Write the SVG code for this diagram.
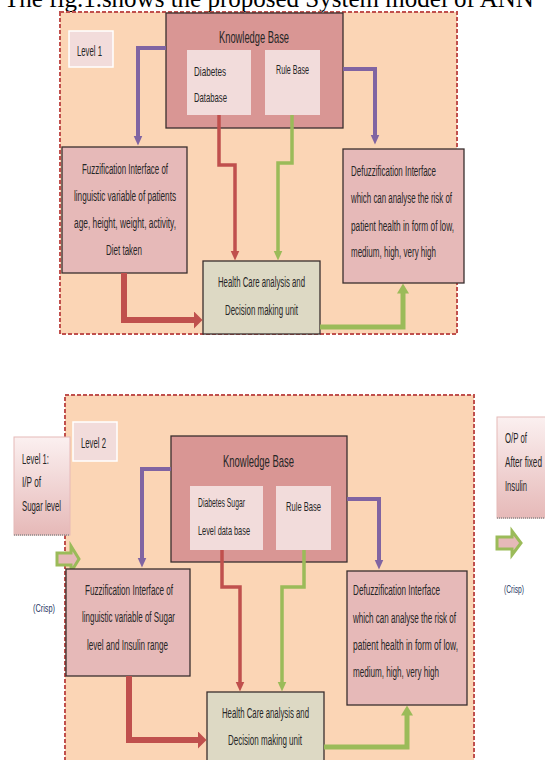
<svg xmlns="http://www.w3.org/2000/svg" width="545" height="760" viewBox="0 0 545 760">
<defs>
<style>
.t{font-family:"Liberation Sans",Arial,sans-serif;font-size:14px;fill:#262626}
.s{font-size:13px}
.h{font-size:17px}
.c{font-size:10.5px;fill:#1F3864}
.outer{fill:#FBD5B5;stroke:#C0504D;stroke-width:2;stroke-dasharray:4 2}
.lvl{fill:#F2DCDB;stroke:#FFFFFF;stroke-width:1.5}
.kb{fill:#D99694;stroke:#3A2E2E;stroke-width:1.3}
.inner{fill:#F2DCDB;stroke:none}
.fz{fill:#E6B9B8;stroke:#3A2E2E;stroke-width:1.3}
.hc{fill:#DDD9C4;stroke:#3A2E2E;stroke-width:1.3}
.io{fill:url(#gio);stroke:#E6B9B8;stroke-width:1}
.cn{fill:none;stroke-linejoin:miter}
.pu{stroke:#8064A2;stroke-width:4;marker-end:url(#aP)}
.rd{stroke:#C0504D;stroke-width:3.5;marker-end:url(#aR)}
.gr{stroke:#9BBB59;stroke-width:3.5;marker-end:url(#aG)}
.rdb{stroke:#C0504D;stroke-width:6;marker-end:url(#aRB)}
.grb{stroke:#9BBB59;stroke-width:5;marker-end:url(#aGB)}
.blk{fill:#E6B9B8;stroke:#9BBB59;stroke-width:3;stroke-linejoin:miter}
</style>
<linearGradient id="gio" x1="0" y1="0" x2="0" y2="1">
<stop offset="0" stop-color="#FBF0F0"/>
<stop offset="1" stop-color="#E6B9B8"/>
</linearGradient>
<marker id="aP" markerUnits="userSpaceOnUse" viewBox="0 0 10 10" markerWidth="10" markerHeight="10" refX="0.5" refY="5" orient="auto"><path d="M0,0.5 L10,5 L0,9.5 z" fill="#8064A2"/></marker>
<marker id="aR" markerUnits="userSpaceOnUse" viewBox="0 0 10 10" markerWidth="10" markerHeight="10" refX="0.5" refY="5" orient="auto"><path d="M0,0.5 L10,5 L0,9.5 z" fill="#C0504D"/></marker>
<marker id="aG" markerUnits="userSpaceOnUse" viewBox="0 0 10 10" markerWidth="10" markerHeight="10" refX="0.5" refY="5" orient="auto"><path d="M0,0.5 L10,5 L0,9.5 z" fill="#9BBB59"/></marker>
<marker id="aRB" markerUnits="userSpaceOnUse" viewBox="0 0 9 18" markerWidth="9" markerHeight="18" refX="0.5" refY="9" orient="auto"><path d="M0,0 L9,9 L0,18 z" fill="#C0504D"/></marker>
<marker id="aGB" markerUnits="userSpaceOnUse" viewBox="0 0 10 12" markerWidth="10" markerHeight="12" refX="0.5" refY="6" orient="auto"><path d="M0,0 L10,6 L0,12 z" fill="#9BBB59"/></marker>
</defs>
<rect width="545" height="760" fill="#FFFFFF"/>
<text x="4" y="7" style="font-family:'Liberation Serif','Times New Roman',serif;font-size:25px;fill:#000">The fig.1.shows the proposed System model of ANN</text>

<!-- Diagram 1 -->
<g id="frame1"><rect class="outer" x="60" y="12" width="397" height="322"/></g>
<g id="level1"><rect class="lvl" x="69" y="31" width="44" height="36"/><text class="t" x="77" y="56" textLength="25" lengthAdjust="spacingAndGlyphs">Level 1</text></g>
<g id="kb1"><rect class="kb" x="166" y="13" width="177" height="115"/><text class="t h" x="219" y="43" textLength="70" lengthAdjust="spacingAndGlyphs">Knowledge Base</text></g>
<g id="db1"><rect class="inner" x="187" y="50" width="64" height="65"/><text class="t s" x="194" y="76" textLength="32" lengthAdjust="spacingAndGlyphs">Diabetes</text><text class="t s" x="194" y="102" textLength="33" lengthAdjust="spacingAndGlyphs">Database</text></g>
<g id="rb1"><rect class="inner" x="265" y="50" width="55" height="65"/><text class="t s" x="276" y="74" textLength="33" lengthAdjust="spacingAndGlyphs">Rule Base</text></g>
<g id="fuzz1"><rect class="fz" x="62" y="147" width="125" height="126"/>
<text class="t" x="82" y="174" textLength="86" lengthAdjust="spacingAndGlyphs">Fuzzification Interface of</text>
<text class="t" x="74" y="201" textLength="102" lengthAdjust="spacingAndGlyphs">linguistic variable of patients</text>
<text class="t" x="74" y="228" textLength="102" lengthAdjust="spacingAndGlyphs">age, height, weight, activity,</text>
<text class="t" x="106" y="255" textLength="36" lengthAdjust="spacingAndGlyphs">Diet taken</text></g>
<g id="hc1"><rect class="hc" x="203" y="261" width="117" height="73"/>
<text class="t" x="218" y="287" textLength="87" lengthAdjust="spacingAndGlyphs">Health Care analysis and</text>
<text class="t" x="225" y="315" textLength="73" lengthAdjust="spacingAndGlyphs">Decision making unit</text></g>
<g id="defuzz1"><rect class="fz" x="343" y="149" width="121" height="134"/>
<text class="t" x="351" y="176" textLength="85" lengthAdjust="spacingAndGlyphs">Defuzzification Interface</text>
<text class="t" x="351" y="203" textLength="101" lengthAdjust="spacingAndGlyphs">which can analyse the risk of</text>
<text class="t" x="351" y="231" textLength="103" lengthAdjust="spacingAndGlyphs">patient health in form of low,</text>
<text class="t" x="351" y="257" textLength="85" lengthAdjust="spacingAndGlyphs">medium, high, very high</text></g>
<g id="connectors1">
<path class="cn pu" d="M166,48 H138 V136"/>
<path class="cn pu" d="M343,69 H375 V135"/>
<path class="cn rd" d="M219,115 V165 H235 V251"/>
<path class="cn gr" d="M292,115 V163 H278 V251"/>
<path class="cn rdb" d="M124,273 V320 H194"/>
<path class="cn grb" d="M320,327 H403 V293"/>
</g>

<!-- Diagram 2 -->
<g id="frame2"><rect class="outer" x="65" y="395" width="409" height="380"/></g>
<g id="level2"><rect class="lvl" x="73" y="422" width="44" height="39"/><text class="t" x="81" y="448" textLength="25" lengthAdjust="spacingAndGlyphs">Level 2</text></g>
<g id="input"><rect class="io" x="14" y="437" width="56" height="98"/><line x1="14" y1="535" x2="70" y2="535" stroke="#8C8C8C" stroke-width="1.5" stroke-dasharray="1 1"/>
<text class="t" x="22" y="464" textLength="27" lengthAdjust="spacingAndGlyphs">Level 1:</text>
<text class="t" x="22" y="487" textLength="19" lengthAdjust="spacingAndGlyphs">I/P of</text>
<text class="t" x="22" y="511" textLength="39" lengthAdjust="spacingAndGlyphs">Sugar level</text></g>
<g id="inArrow"><polygon class="blk" points="57,553 71,553 71,546 79,559 71,572 71,565 57,565"/></g>
<g id="crispL"><text class="t c" x="33" y="612" textLength="22" lengthAdjust="spacingAndGlyphs">(Crisp)</text></g>
<g id="kb2"><rect class="kb" x="171" y="436" width="176" height="126"/><text class="t h" x="223" y="467" textLength="71" lengthAdjust="spacingAndGlyphs">Knowledge Base</text></g>
<g id="db2"><rect class="inner" x="190" y="486" width="73" height="64"/><text class="t s" x="198" y="507" textLength="47" lengthAdjust="spacingAndGlyphs">Diabetes Sugar</text><text class="t s" x="198" y="535" textLength="52" lengthAdjust="spacingAndGlyphs">Level data base</text></g>
<g id="rb2"><rect class="inner" x="276" y="486" width="55" height="64"/><text class="t s" x="286" y="511" textLength="35" lengthAdjust="spacingAndGlyphs">Rule Base</text></g>
<g id="fuzz2"><rect class="fz" x="66" y="569" width="124" height="107"/>
<text class="t" x="85" y="595" textLength="88" lengthAdjust="spacingAndGlyphs">Fuzzification Interface of</text>
<text class="t" x="82" y="622" textLength="93" lengthAdjust="spacingAndGlyphs">linguistic variable of Sugar</text>
<text class="t" x="87" y="650" textLength="81" lengthAdjust="spacingAndGlyphs">level and Insulin range</text></g>
<g id="defuzz2"><rect class="fz" x="347" y="571" width="120" height="134"/>
<text class="t" x="353" y="595" textLength="87" lengthAdjust="spacingAndGlyphs">Defuzzification Interface</text>
<text class="t" x="353" y="623" textLength="103" lengthAdjust="spacingAndGlyphs">which can analyse the risk of</text>
<text class="t" x="353" y="650" textLength="105" lengthAdjust="spacingAndGlyphs">patient health in form of low,</text>
<text class="t" x="353" y="677" textLength="86" lengthAdjust="spacingAndGlyphs">medium, high, very high</text></g>
<g id="hc2"><rect class="hc" x="207" y="692" width="117" height="80"/>
<text class="t" x="222" y="718" textLength="87" lengthAdjust="spacingAndGlyphs">Health Care analysis and</text>
<text class="t" x="228" y="745" textLength="74" lengthAdjust="spacingAndGlyphs">Decision making unit</text></g>
<g id="output"><rect class="io" x="497" y="417" width="60" height="101"/><line x1="497" y1="518" x2="545" y2="518" stroke="#8C8C8C" stroke-width="1.5" stroke-dasharray="1 1"/>
<text class="t" x="505" y="443" textLength="22" lengthAdjust="spacingAndGlyphs">O/P of</text>
<text class="t" x="505" y="467" textLength="37" lengthAdjust="spacingAndGlyphs">After fixed</text>
<text class="t" x="505" y="491" textLength="22" lengthAdjust="spacingAndGlyphs">Insulin</text></g>
<g id="outArrow"><polygon class="blk" points="497,537 512,537 512,531 521,543 512,555 512,549 497,549"/></g>
<g id="crispR"><text class="t c" x="504" y="593" textLength="20" lengthAdjust="spacingAndGlyphs">(Crisp)</text></g>
<g id="connectors2">
<path class="cn pu" d="M171,469 H142 V558"/>
<path class="cn pu" d="M347,499 H379 V560"/>
<path class="cn rd" d="M222,550 V587 H240 V682"/>
<path class="cn gr" d="M304,550 V587 H282 V682"/>
<path class="cn rdb" d="M129,676 V740 H198"/>
<path class="cn grb" d="M324,747 H407 V715"/>
</g>
</svg>
